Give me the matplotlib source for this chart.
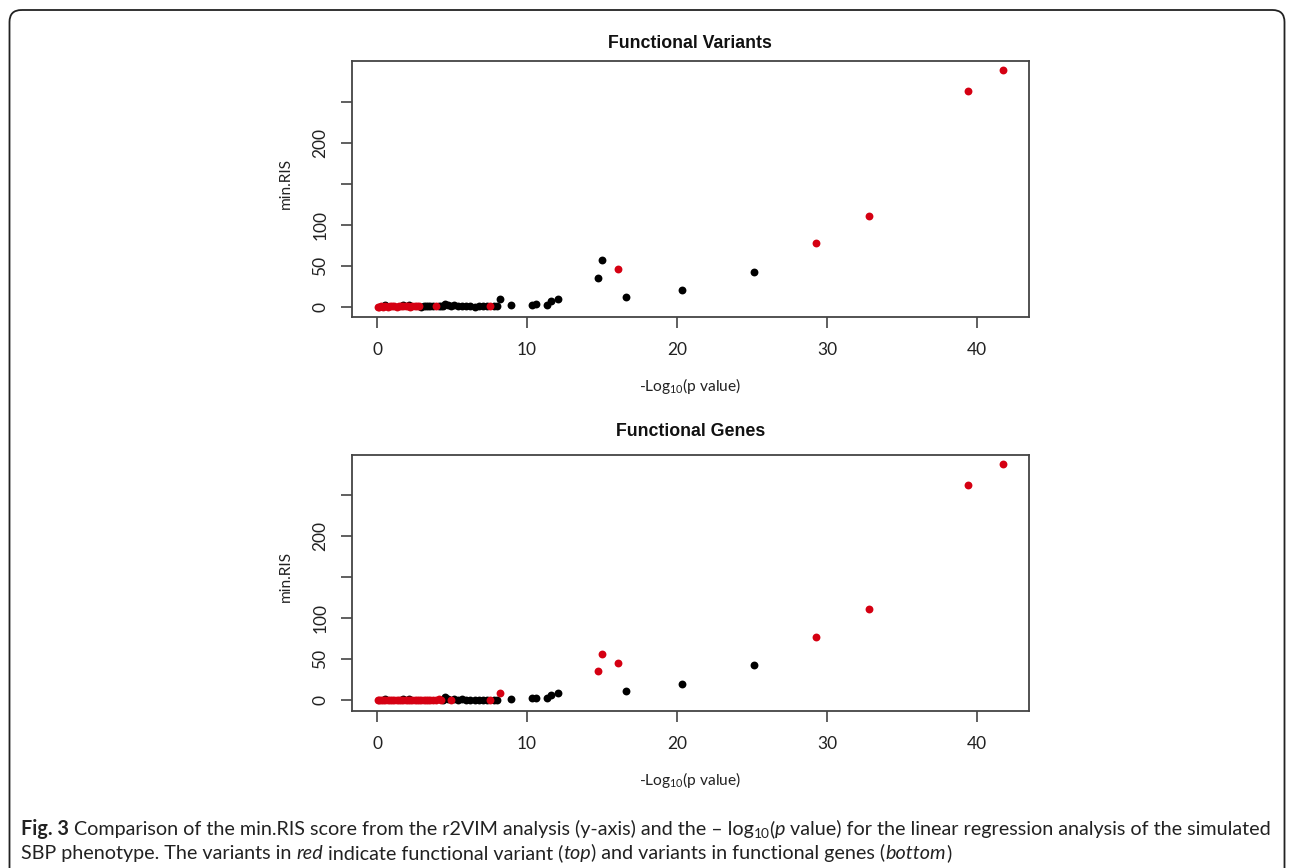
import numpy as np
import matplotlib
matplotlib.use("Agg")
import matplotlib.pyplot as plt
from matplotlib.patches import FancyBboxPatch

# ---------------- data ----------------
neglog10_p = [
    41.75, 39.40, 32.82, 29.27, 25.15, 20.35, 16.62, 16.09, 15.02, 14.71,
    12.09, 11.60, 11.36, 10.60, 10.30, 8.90, 8.20, 8.00, 7.80, 7.50,
    7.30, 7.05, 6.80, 6.50, 6.20, 5.90, 5.65, 5.40, 5.15, 4.90, 4.70, 4.55, 4.40,
    4.25, 4.10, 3.90, 3.70, 3.55, 3.40, 3.25, 3.10, 2.95,
    2.80, 2.65, 2.50, 2.35, 2.20, 2.05, 1.90, 1.75, 1.60, 1.45,
    1.30, 1.15, 1.00, 0.85, 0.70, 0.55, 0.40, 0.28, 0.15, 0.05,
    2.15, 1.70, 0.50,
]
min_ris = [
    288.3, 263.0, 111.0, 77.3, 42.7, 20.4, 11.8, 45.6, 56.6, 35.4,
    9.4, 6.6, 2.4, 3.0, 2.6, 1.8, 9.0, 1.0, 0.6, 0.8,
    0.5, 0.3, 0.6, 0.2, 0.8, 0.4, 1.2, 0.5, 1.5, 0.7, 2.2, 3.8, 1.0,
    0.6, 1.4, 0.5, 0.8, 0.3, 1.1, 0.4, 0.9, 0.2,
    0.4, 0.8, 0.3, 0.6, 0.2, 0.9, 0.5, 0.3, 0.7, 0.4,
    0.2, 0.6, 0.3, 0.5, 0.2, 0.4, 0.1, 0.3, 0.2, 0.1,
    1.8, 1.6, 1.5,
]
functional_variant = [
    1, 1, 1, 1, 0, 0, 0, 1, 0, 0,
    0, 0, 0, 0, 0, 0, 0, 0, 0, 1,
    0, 0, 0, 0, 0, 0, 0, 0, 0, 0, 0, 0, 0,
    0, 0, 1, 0, 0, 0, 0, 0, 0,
    1, 1, 1, 1, 1, 1, 1, 1, 1, 1,
    1, 1, 1, 1, 1, 1, 1, 1, 1, 1,
    0, 0, 0,
]
functional_gene = [
    1, 1, 1, 1, 0, 0, 0, 1, 1, 1,
    0, 0, 0, 0, 0, 0, 1, 0, 0, 1,
    0, 0, 0, 0, 0, 0, 0, 0, 0, 1, 0, 0, 0,
    1, 1, 1, 1, 1, 1, 1, 1, 1,
    1, 1, 1, 1, 1, 1, 1, 1, 1, 1,
    1, 1, 1, 1, 1, 1, 1, 1, 1, 1,
    0, 0, 0,
]
panel_titles = ["Functional Variants", "Functional Genes"]
x_ticks = [0, 10, 20, 30, 40]
y_ticks = [0, 50, 100, 150, 200, 250]
y_tick_labels = ["0", "50", "100", "", "200", ""]

# ---------------- figure ----------------
W, H = 1290, 868
fig = plt.figure(figsize=(W / 100, H / 100), dpi=100)
fig.patch.set_facecolor("white")

# overlay canvas in pixel coordinates (for border, titles, labels, caption)
cv = fig.add_axes([0, 0, 1, 1], zorder=0)
cv.set_xlim(0, W)
cv.set_ylim(H, 0)
cv.axis("off")
cv.patch.set_alpha(0)

border = FancyBboxPatch((9.5, 10), 1275, 880,
                        boxstyle="round,pad=0,rounding_size=12",
                        fc="none", ec="#222222", lw=1.3, clip_on=True)
cv.add_patch(border)

RED = "#d50012"
FRAME = "#444444"
tick_font = "Lato"
plt.rcParams["mathtext.fontset"] = "custom"
plt.rcParams["mathtext.rm"] = "Lato"
plt.rcParams["mathtext.it"] = "Lato:italic"

x = np.array(neglog10_p)
y = np.array(min_ris)

# axes frames in pixels: left, right, top, bottom
frames = [(352, 1028.7, 61, 317.3), (352, 1028.7, 454.6, 711)]
flag_sets = [functional_variant, functional_gene]
title_y = [43, 432]
xlabel_y = [386, 780]

for (l, r, t, b), flags, title, ty, xy in zip(frames, flag_sets, panel_titles, title_y, xlabel_y):
    ax = fig.add_axes([l / W, 1 - b / H, (r - l) / W, (b - t) / H], zorder=2)
    ax.patch.set_alpha(0)
    f = np.array(flags, dtype=bool)
    ax.scatter(x[~f], y[~f], s=32, c="black", linewidths=0, zorder=3)
    ax.scatter(x[f], y[f], s=32, c=RED, linewidths=0, zorder=4)
    ax.set_xlim(-1.67, 43.45)
    ax.set_ylim(-12.9, 299.6)
    ax.set_xticks(x_ticks)
    ax.set_xticklabels([str(v) for v in x_ticks], fontsize=12.5, family=tick_font, color="#222222")
    ax.set_yticks(y_ticks)
    ax.set_yticklabels(y_tick_labels, fontsize=12.5, family=tick_font, color="#222222",
                       rotation=90, va="center")
    ax.tick_params(axis="both", direction="out", length=8, width=1.2, color=FRAME)
    ax.tick_params(axis="x", pad=10)
    ax.tick_params(axis="y", pad=9)
    for s in ax.spines.values():
        s.set_color(FRAME)
        s.set_linewidth(1.3)
    # title
    cv.text((l + r) / 2, ty, title, ha="center", va="center",
            fontsize=12.8, fontweight="bold", family="Liberation Sans", color="#111111")
    # axis labels
    cv.text((l + r) / 2, xy, r"-Log$_{\mathrm{10}}$(p value)", ha="center", va="center",
            fontsize=11.2, family=tick_font, color="#222222")
    cv.text(286, (t + b) / 2 - 6, "min.RIS", ha="center", va="center", rotation=90,
            fontsize=11.2, family=tick_font, color="#222222")

# ---------------- caption with mixed styles ----------------
renderer = fig.canvas.get_renderer()
cap_font = "Lato"


def draw_runs(runs, x0, y0, size):
    xc = x0
    for txt, style in runs:
        kw = dict(fontsize=size, family=cap_font, color="#222222", va="baseline", ha="left")
        if style == "b":
            kw["fontweight"] = "bold"
        elif style == "i":
            kw["style"] = "italic"
        elif style == "sub":
            kw["fontsize"] = size * 0.7
        tt = cv.text(xc, y0 + (3 if style == "sub" else 0), txt, **kw)
        bb = tt.get_window_extent(renderer=renderer)
        xc += bb.width
    return xc


line1 = [("Fig. 3", "b"),
         (" Comparison of the min.RIS score from the r2VIM analysis (y-axis) and the \u2013 log", ""),
         ("10", "sub"), ("(", ""), ("p", "i"),
         (" value) for the linear regression analysis of the simulated", "")]
line2 = [("SBP phenotype. The variants in ", ""), ("red", "i"),
         (" indicate functional variant (", ""), ("top", "i"),
         (") and variants in functional genes (", ""), ("bottom", "i"), (")", "")]

# fit first line to target width
target = 1268 - 21
size = 12.0
tmp_fig = plt.figure(figsize=(W / 100, H / 100), dpi=100)
tax = tmp_fig.add_axes([0, 0, 1, 1])
tax.set_xlim(0, W)
tax.set_ylim(H, 0)
r2 = tmp_fig.canvas.get_renderer()
xc = 21
for txt, style in line1:
    kw = dict(fontsize=size, family=cap_font)
    if style == "b":
        kw["fontweight"] = "bold"
    elif style == "i":
        kw["style"] = "italic"
    elif style == "sub":
        kw["fontsize"] = size * 0.7
    tt = tax.text(0, 0, txt, **kw)
    xc += tt.get_window_extent(renderer=r2).width
plt.close(tmp_fig)
size = size * target / (xc - 21)

draw_runs(line1, 21, 835, size)
draw_runs(line2, 21, 859, size)

fig.savefig("out.png", dpi=100, facecolor="white")
